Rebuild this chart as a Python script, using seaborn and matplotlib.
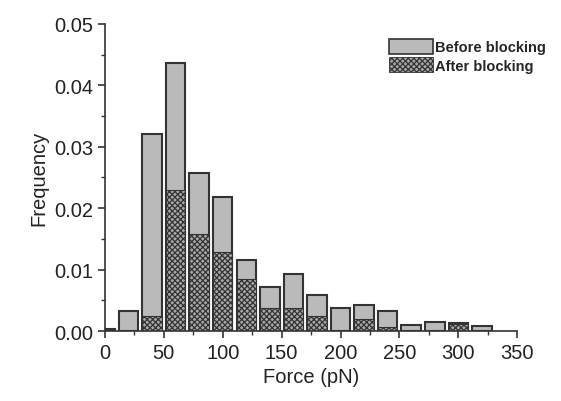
import numpy as np
import pandas as pd
import matplotlib
matplotlib.use("Agg")
import matplotlib.pyplot as plt
import seaborn as sns
from matplotlib.patches import Patch
from matplotlib.ticker import MultipleLocator, FormatStrFormatter

# bin centres (pN) and frequencies
force = [0, 20, 40, 60, 80, 100, 120, 140, 160, 180, 200, 220, 240, 260, 280, 300, 320]
before = [0.0003, 0.0032, 0.0320, 0.0436, 0.0258, 0.0219, 0.0116, 0.0071, 0.0093,
          0.0059, 0.0037, 0.0043, 0.0032, 0.0010, 0.0015, 0.0013, 0.0009]
after = [0.0, 0.0, 0.0025, 0.0229, 0.0158, 0.0129, 0.0085, 0.0037, 0.0037,
         0.0025, 0.0, 0.0020, 0.0007, 0.0, 0.0, 0.0011, 0.0]

df = pd.DataFrame({"force": force, "before": before, "after": after})

sns.set_style("ticks")
plt.rcParams["font.family"] = ["Liberation Sans", "DejaVu Sans"]
plt.rcParams["hatch.color"] = "#222222"
plt.rcParams["hatch.linewidth"] = 0.9

fig = plt.figure(figsize=(5.61, 4.02), dpi=100)
ax = fig.add_axes([0.187, 0.174, 0.735, 0.764])

sns.histplot(data=df, x="force", weights="before", bins=len(force), binrange=(-10, 330),
             shrink=0.83, color="#bababa", alpha=1, edgecolor="#333333", linewidth=1.5, ax=ax)
sns.histplot(data=df, x="force", weights="after", bins=len(force), binrange=(-10, 330),
             shrink=0.83, color="#a8a8a8", alpha=1, edgecolor="#333333", linewidth=0.8,
             hatch="xxxxxx", ax=ax)

ax.set_xlim(0, 350)
ax.set_ylim(0, 0.05)
ax.xaxis.set_major_locator(MultipleLocator(50))
ax.xaxis.set_minor_locator(MultipleLocator(25))
ax.yaxis.set_major_locator(MultipleLocator(0.01))
ax.yaxis.set_minor_locator(MultipleLocator(0.005))
ax.yaxis.set_major_formatter(FormatStrFormatter("%.2f"))
ax.tick_params(which="major", length=5, width=1.2, labelsize=14.5, color="#333333",
               labelcolor="#222222")
ax.tick_params(which="minor", length=3, width=1.0, color="#333333")
for s in ["left", "bottom"]:
    ax.spines[s].set_linewidth(1.2)
    ax.spines[s].set_color("#333333")
sns.despine(ax=ax)

ax.set_xlabel("Force (pN)", fontsize=14.5, color="#222222")
ax.set_ylabel("Frequency", fontsize=14.5, color="#222222")

handles = [Patch(facecolor="#bababa", edgecolor="#333333", linewidth=1.2, label="Before blocking"),
           Patch(facecolor="#a8a8a8", edgecolor="#333333", linewidth=0.6, hatch="xxxxxx",
                 label="After blocking")]
ax.legend(handles=handles, loc="upper right", frameon=False,
          prop={"weight": "bold", "size": 10.5}, handlelength=3.0, handleheight=1.2,
          handletextpad=0.15, labelspacing=0.2, borderaxespad=0.2,
          bbox_to_anchor=(1.09, 0.98))

fig.savefig("out.png", dpi=100)
